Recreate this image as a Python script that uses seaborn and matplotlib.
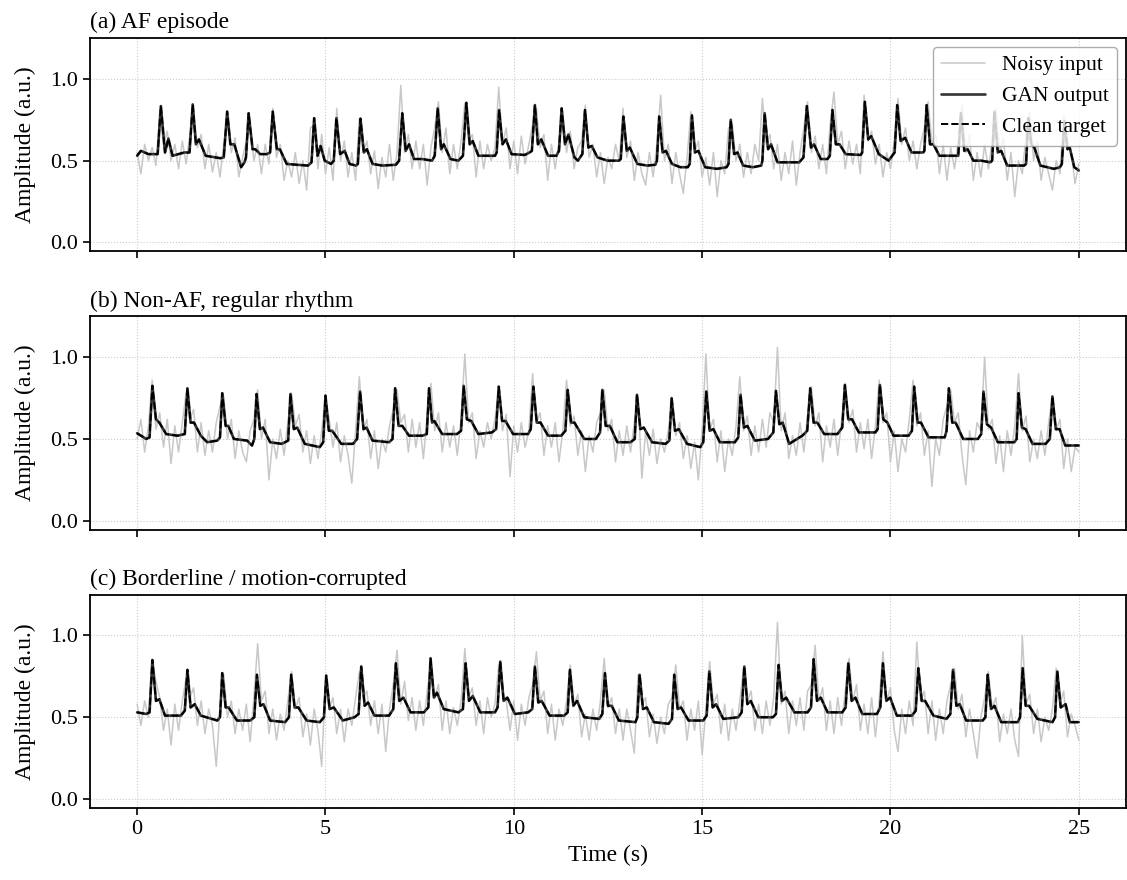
import numpy as np
import pandas as pd
import matplotlib
matplotlib.use("Agg")
import matplotlib.pyplot as plt
import seaborn as sns

# panel titles
titles = ["(a) AF episode", "(b) Non-AF, regular rhythm", "(c) Borderline / motion-corrupted"]

# noisy input, one value every 0.1 s from 0 to 25 s
noisy_a = [
    0.55, 0.42, 0.60, 0.50, 0.58, 0.47, 0.78, 0.60, 0.68, 0.50,
    0.60, 0.45, 0.62, 0.48, 0.66, 0.80, 0.58, 0.66, 0.45, 0.60,
    0.43, 0.55, 0.40, 0.60, 0.76, 0.55, 0.64, 0.40, 0.52, 0.62,
    0.72, 0.50, 0.60, 0.42, 0.60, 0.48, 0.82, 0.52, 0.60, 0.38,
    0.50, 0.40, 0.55, 0.36, 0.50, 0.32, 0.70, 0.72, 0.45, 0.66,
    0.42, 0.58, 0.38, 0.82, 0.50, 0.62, 0.40, 0.55, 0.38, 0.76,
    0.55, 0.62, 0.42, 0.56, 0.33, 0.52, 0.40, 0.60, 0.38, 0.55,
    0.96, 0.55, 0.66, 0.45, 0.62, 0.45, 0.60, 0.35, 0.58, 0.70,
    0.86, 0.55, 0.70, 0.42, 0.60, 0.45, 0.62, 0.85, 0.62, 0.66,
    0.40, 0.62, 0.45, 0.60, 0.50, 0.58, 0.95, 0.60, 0.70, 0.45,
    0.62, 0.42, 0.65, 0.48, 0.60, 0.72, 0.82, 0.58, 0.66, 0.38,
    0.60, 0.45, 0.62, 0.80, 0.55, 0.68, 0.45, 0.58, 0.62, 0.84,
    0.52, 0.60, 0.40, 0.55, 0.36, 0.52, 0.45, 0.60, 0.50, 0.82,
    0.52, 0.62, 0.38, 0.55, 0.42, 0.35, 0.55, 0.40, 0.60, 0.90,
    0.50, 0.60, 0.36, 0.55, 0.42, 0.30, 0.52, 0.80, 0.55, 0.62,
    0.40, 0.52, 0.35, 0.55, 0.28, 0.50, 0.42, 0.70, 0.72, 0.50,
    0.60, 0.40, 0.55, 0.42, 0.60, 0.50, 0.88, 0.60, 0.66, 0.45,
    0.60, 0.38, 0.55, 0.42, 0.62, 0.35, 0.55, 0.70, 0.86, 0.55,
    0.65, 0.45, 0.60, 0.42, 0.72, 0.92, 0.60, 0.68, 0.45, 0.62,
    0.48, 0.60, 0.42, 0.90, 0.62, 0.68, 0.48, 0.60, 0.40, 0.55,
    0.45, 0.62, 0.88, 0.60, 0.70, 0.50, 0.62, 0.45, 0.60, 0.70,
    0.86, 0.60, 0.66, 0.42, 0.60, 0.38, 0.58, 0.45, 0.62, 0.84,
    0.55, 0.66, 0.38, 0.55, 0.40, 0.60, 0.45, 0.62, 0.82, 0.55,
    0.64, 0.38, 0.55, 0.28, 0.50, 0.42, 0.66, 0.80, 0.50, 0.62,
    0.38, 0.52, 0.42, 0.32, 0.50, 0.42, 0.78, 0.60, 0.55, 0.36,
    0.48,
]
noisy_b = [
    0.50, 0.62, 0.42, 0.58, 0.86, 0.56, 0.66, 0.45, 0.62, 0.35,
    0.58, 0.42, 0.60, 0.78, 0.62, 0.68, 0.42, 0.60, 0.40, 0.55,
    0.42, 0.60, 0.70, 0.76, 0.50, 0.62, 0.38, 0.55, 0.42, 0.36,
    0.55, 0.62, 0.80, 0.50, 0.62, 0.25, 0.50, 0.38, 0.56, 0.40,
    0.60, 0.78, 0.58, 0.65, 0.42, 0.55, 0.35, 0.52, 0.38, 0.55,
    0.76, 0.62, 0.45, 0.60, 0.36, 0.52, 0.40, 0.23, 0.55, 0.88,
    0.55, 0.62, 0.38, 0.55, 0.32, 0.50, 0.42, 0.58, 0.68, 0.80,
    0.60, 0.65, 0.42, 0.62, 0.45, 0.60, 0.38, 0.65, 0.84, 0.55,
    0.66, 0.42, 0.60, 0.45, 0.58, 0.40, 0.62, 1.02, 0.60, 0.66,
    0.38, 0.55, 0.45, 0.60, 0.50, 0.62, 0.80, 0.55, 0.65, 0.27,
    0.58, 0.42, 0.60, 0.45, 0.55, 0.90, 0.60, 0.66, 0.40, 0.58,
    0.45, 0.60, 0.36, 0.55, 0.86, 0.58, 0.64, 0.40, 0.55, 0.30,
    0.52, 0.42, 0.60, 0.66, 0.80, 0.55, 0.62, 0.36, 0.55, 0.40,
    0.58, 0.42, 0.60, 0.76, 0.26, 0.55, 0.40, 0.56, 0.35, 0.50,
    0.42, 0.55, 0.74, 0.52, 0.60, 0.38, 0.52, 0.32, 0.48, 0.25,
    0.55, 1.02, 0.55, 0.62, 0.36, 0.55, 0.30, 0.50, 0.40, 0.58,
    0.88, 0.55, 0.64, 0.40, 0.58, 0.42, 0.62, 0.45, 0.66, 0.60,
    1.06, 0.55, 0.66, 0.38, 0.52, 0.40, 0.60, 0.42, 0.64, 0.82,
    0.58, 0.66, 0.36, 0.58, 0.45, 0.62, 0.40, 0.60, 0.84, 0.60,
    0.68, 0.42, 0.60, 0.44, 0.62, 0.38, 0.58, 0.86, 0.60, 0.66,
    0.36, 0.55, 0.30, 0.50, 0.42, 0.62, 0.86, 0.58, 0.66, 0.40,
    0.55, 0.21, 0.50, 0.40, 0.62, 0.70, 0.80, 0.60, 0.66, 0.40,
    0.22, 0.55, 0.42, 0.60, 0.55, 1.00, 0.56, 0.62, 0.35, 0.52,
    0.30, 0.55, 0.40, 0.58, 0.90, 0.55, 0.64, 0.36, 0.50, 0.38,
    0.55, 0.40, 0.60, 0.76, 0.55, 0.62, 0.32, 0.50, 0.30, 0.45,
    0.42,
]
noisy_c = [
    0.58, 0.45, 0.60, 0.50, 0.84, 0.72, 0.62, 0.42, 0.55, 0.33,
    0.58, 0.42, 0.60, 0.74, 0.62, 0.68, 0.45, 0.60, 0.40, 0.55,
    0.45, 0.20, 0.55, 0.76, 0.50, 0.60, 0.40, 0.55, 0.42, 0.58,
    0.35, 0.62, 0.95, 0.60, 0.66, 0.40, 0.55, 0.36, 0.52, 0.42,
    0.60, 0.78, 0.55, 0.62, 0.38, 0.52, 0.33, 0.55, 0.42, 0.20,
    0.72, 0.55, 0.62, 0.40, 0.55, 0.35, 0.55, 0.45, 0.62, 0.78,
    0.62, 0.66, 0.45, 0.60, 0.40, 0.58, 0.29, 0.55, 0.70, 0.91,
    0.58, 0.72, 0.48, 0.62, 0.42, 0.60, 0.45, 0.66, 0.84, 0.62,
    0.70, 0.42, 0.60, 0.40, 0.56, 0.45, 0.60, 0.92, 0.62, 0.68,
    0.45, 0.60, 0.40, 0.62, 0.50, 0.58, 0.82, 0.66, 0.60, 0.42,
    0.60, 0.36, 0.58, 0.45, 0.62, 0.70, 0.90, 0.60, 0.66, 0.40,
    0.58, 0.36, 0.55, 0.45, 0.60, 0.82, 0.58, 0.64, 0.38, 0.52,
    0.36, 0.55, 0.42, 0.60, 0.86, 0.56, 0.62, 0.40, 0.55, 0.36,
    0.55, 0.42, 0.28, 0.76, 0.58, 0.62, 0.38, 0.52, 0.34, 0.50,
    0.40, 0.58, 0.62, 0.82, 0.55, 0.60, 0.36, 0.55, 0.42, 0.60,
    0.27, 0.55, 0.84, 0.58, 0.64, 0.40, 0.58, 0.36, 0.55, 0.42,
    0.60, 0.80, 0.60, 0.66, 0.42, 0.58, 0.40, 0.60, 0.45, 0.62,
    1.08, 0.58, 0.66, 0.40, 0.60, 0.45, 0.62, 0.42, 0.66, 0.70,
    0.94, 0.60, 0.68, 0.42, 0.60, 0.40, 0.62, 0.45, 0.66, 0.86,
    0.60, 0.70, 0.42, 0.58, 0.40, 0.62, 0.38, 0.60, 0.90, 0.60,
    0.68, 0.42, 0.29, 0.55, 0.40, 0.60, 0.45, 0.96, 0.60, 0.66,
    0.40, 0.60, 0.36, 0.55, 0.40, 0.60, 0.70, 0.80, 0.55, 0.64,
    0.38, 0.55, 0.40, 0.25, 0.50, 0.62, 0.78, 0.56, 0.62, 0.35,
    0.52, 0.40, 0.55, 0.36, 0.26, 1.00, 0.58, 0.64, 0.40, 0.55,
    0.35, 0.50, 0.42, 0.55, 0.80, 0.58, 0.66, 0.38, 0.52, 0.45,
    0.36,
]

# GAN output, (time s, amplitude) knots
gan_a = [
    (0.0, 0.53), (0.1, 0.56), (0.3, 0.54), (0.545, 0.54), (0.63, 0.834), (0.74, 0.55), (0.83, 0.635), (0.94, 0.53), (1.25, 0.55),
    (1.39, 0.55), (1.476, 0.844), (1.56, 0.6), (1.64, 0.63), (1.82, 0.53), (2.21, 0.515),
    (2.30, 0.52), (2.39, 0.80), (2.476, 0.6), (2.58, 0.6), (2.76, 0.46), (2.85, 0.49),
    (2.89, 0.52), (2.96, 0.79), (3.065, 0.57), (3.135, 0.57), (3.27, 0.54), (3.44, 0.54),
    (3.53, 0.55), (3.60, 0.80), (3.71, 0.57), (3.79, 0.57), (3.97, 0.48), (4.23, 0.475), (4.54, 0.47),
    (4.63, 0.49), (4.70, 0.76), (4.79, 0.53), (4.87, 0.59), (4.98, 0.5), (5.15, 0.48),
    (5.22, 0.5), (5.29, 0.76), (5.39, 0.54), (5.51, 0.56), (5.64, 0.48), (5.81, 0.47),
    (5.86, 0.48), (5.93, 0.757), (6.02, 0.55), (6.10, 0.57), (6.25, 0.48), (6.51, 0.47), (6.87, 0.475),
    (6.955, 0.5), (7.04, 0.79), (7.13, 0.56), (7.22, 0.6), (7.35, 0.51), (7.57, 0.51), (7.83, 0.5),
    (7.90, 0.53), (7.98, 0.82), (8.07, 0.57), (8.14, 0.6), (8.32, 0.51), (8.53, 0.5),
    (8.65, 0.53), (8.74, 0.854), (8.83, 0.6), (8.91, 0.62), (9.06, 0.53), (9.33, 0.53), (9.50, 0.53),
    (9.545, 0.55), (9.61, 0.81), (9.70, 0.6), (9.79, 0.63), (9.94, 0.54), (10.29, 0.535), (10.42, 0.55),
    (10.48, 0.56), (10.56, 0.84), (10.64, 0.6), (10.73, 0.63), (10.91, 0.53), (11.13, 0.53),
    (11.20, 0.56), (11.27, 0.82), (11.36, 0.6), (11.45, 0.66), (11.61, 0.52), (11.70, 0.5),
    (11.82, 0.54), (11.89, 0.81), (11.98, 0.58), (12.07, 0.59), (12.22, 0.52), (12.49, 0.5), (12.79, 0.5),
    (12.84, 0.51), (12.91, 0.77), (13.0, 0.56), (13.08, 0.58), (13.28, 0.48), (13.54, 0.47), (13.76, 0.475),
    (13.80, 0.5), (13.86, 0.77), (13.95, 0.55), (14.04, 0.56), (14.20, 0.48), (14.42, 0.46), (14.62, 0.46),
    (14.67, 0.48), (14.73, 0.777), (14.81, 0.55), (14.90, 0.56), (15.08, 0.46), (15.39, 0.45), (15.65, 0.46),
    (15.70, 0.48), (15.76, 0.75), (15.85, 0.54), (15.94, 0.55), (16.09, 0.47), (16.35, 0.46), (16.57, 0.47),
    (16.60, 0.5), (16.66, 0.79), (16.75, 0.57), (16.83, 0.6), (17.0, 0.49), (17.58, 0.49),
    (17.69, 0.52), (17.78, 0.834), (17.89, 0.58), (17.97, 0.6), (18.15, 0.51), (18.33, 0.51),
    (18.39, 0.53), (18.46, 0.81), (18.55, 0.6), (18.65, 0.6), (18.81, 0.54), (19.21, 0.535),
    (19.25, 0.55), (19.32, 0.86), (19.41, 0.63), (19.49, 0.65), (19.69, 0.54), (19.95, 0.5),
    (20.11, 0.55), (20.18, 0.84), (20.27, 0.62), (20.39, 0.64), (20.56, 0.55), (20.87, 0.55),
    (20.90, 0.56), (20.96, 0.84), (21.05, 0.6), (21.14, 0.6), (21.30, 0.53), (21.62, 0.53),
    (21.80, 0.53), (21.87, 0.79), (21.96, 0.56), (22.05, 0.57), (22.20, 0.5), (22.41, 0.5), (22.65, 0.49),
    (22.70, 0.5), (22.76, 0.80), (22.85, 0.55), (22.94, 0.56), (23.10, 0.47), (23.29, 0.47), (23.55, 0.47),
    (23.60, 0.48), (23.66, 0.76), (23.74, 0.6), (23.82, 0.58), (23.98, 0.47), (24.34, 0.45), (24.50, 0.46),
    (24.55, 0.48), (24.62, 0.74), (24.70, 0.57), (24.76, 0.58), (24.88, 0.46), (25.0, 0.44),
]
gan_b = [
    (0.0, 0.535), (0.24, 0.5), (0.33, 0.51), (0.405, 0.825), (0.50, 0.62), (0.59, 0.6), (0.77, 0.53), (1.07, 0.52),
    (1.265, 0.53), (1.335, 0.81), (1.42, 0.6), (1.51, 0.6), (1.69, 0.52), (1.86, 0.48), (2.13, 0.49),
    (2.20, 0.51), (2.26, 0.78), (2.35, 0.58), (2.42, 0.58), (2.57, 0.5), (2.92, 0.49), (3.05, 0.46),
    (3.11, 0.5), (3.17, 0.775), (3.26, 0.56), (3.34, 0.57), (3.53, 0.48), (3.84, 0.47),
    (4.01, 0.49), (4.07, 0.775), (4.16, 0.56), (4.25, 0.57), (4.45, 0.47), (4.85, 0.45),
    (4.94, 0.48), (5.00, 0.765), (5.09, 0.55), (5.18, 0.55), (5.42, 0.47), (5.73, 0.47),
    (5.84, 0.5), (5.92, 0.79), (6.01, 0.56), (6.09, 0.57), (6.25, 0.49), (6.69, 0.48),
    (6.78, 0.5), (6.85, 0.81), (6.94, 0.58), (7.04, 0.58), (7.22, 0.52), (7.57, 0.52),
    (7.69, 0.53), (7.75, 0.81), (7.83, 0.6), (7.89, 0.61), (8.10, 0.53), (8.49, 0.53),
    (8.60, 0.55), (8.67, 0.825), (8.755, 0.62), (8.87, 0.61), (9.06, 0.53), (9.42, 0.54),
    (9.53, 0.56), (9.60, 0.82), (9.69, 0.61), (9.78, 0.61), (9.98, 0.53), (10.38, 0.53),
    (10.45, 0.56), (10.52, 0.82), (10.61, 0.6), (10.71, 0.6), (10.91, 0.52), (11.26, 0.52),
    (11.37, 0.55), (11.43, 0.8), (11.52, 0.6), (11.61, 0.6), (11.87, 0.5), (12.18, 0.5),
    (12.29, 0.54), (12.35, 0.8), (12.44, 0.58), (12.55, 0.58), (12.75, 0.48), (13.10, 0.48),
    (13.21, 0.5), (13.27, 0.77), (13.36, 0.56), (13.45, 0.57), (13.67, 0.48), (14.03, 0.47),
    (14.13, 0.49), (14.19, 0.75), (14.28, 0.55), (14.38, 0.56), (14.60, 0.47), (14.95, 0.45),
    (15.03, 0.48), (15.11, 0.79), (15.20, 0.55), (15.30, 0.56), (15.47, 0.48), (15.87, 0.48),
    (15.96, 0.51), (16.02, 0.77), (16.11, 0.57), (16.20, 0.58), (16.40, 0.49), (16.75, 0.5),
    (16.89, 0.54), (16.96, 0.794), (17.05, 0.59), (17.14, 0.6), (17.31, 0.47), (17.66, 0.52),
    (17.79, 0.55), (17.87, 0.81), (17.96, 0.6), (18.06, 0.6), (18.24, 0.53), (18.59, 0.53),
    (18.72, 0.57), (18.79, 0.83), (18.88, 0.62), (18.98, 0.62), (19.16, 0.54), (19.60, 0.54),
    (19.66, 0.56), (19.72, 0.83), (19.81, 0.62), (19.92, 0.6), (20.08, 0.52), (20.48, 0.52),
    (20.57, 0.55), (20.63, 0.82), (20.72, 0.6), (20.81, 0.6), (21.01, 0.51), (21.44, 0.51),
    (21.49, 0.55), (21.55, 0.81), (21.64, 0.6), (21.73, 0.6), (21.93, 0.5), (22.32, 0.5),
    (22.41, 0.53), (22.47, 0.79), (22.56, 0.59), (22.67, 0.57), (22.85, 0.48), (23.29, 0.48),
    (23.35, 0.5), (23.40, 0.78), (23.49, 0.57), (23.59, 0.56), (23.77, 0.47), (24.12, 0.47),
    (24.23, 0.5), (24.30, 0.76), (24.39, 0.56), (24.49, 0.56), (24.64, 0.46), (25.0, 0.46),
]
gan_c = [
    (0.0, 0.53), (0.24, 0.52), (0.33, 0.53), (0.405, 0.85), (0.50, 0.6), (0.59, 0.61), (0.74, 0.51), (1.16, 0.51),
    (1.265, 0.54), (1.335, 0.79), (1.42, 0.56), (1.53, 0.58), (1.69, 0.51), (2.13, 0.48),
    (2.20, 0.5), (2.26, 0.77), (2.35, 0.56), (2.43, 0.56), (2.65, 0.48), (3.00, 0.48),
    (3.11, 0.5), (3.18, 0.76), (3.27, 0.57), (3.355, 0.58), (3.53, 0.48), (3.93, 0.47),
    (4.03, 0.5), (4.09, 0.76), (4.18, 0.56), (4.28, 0.56), (4.50, 0.48), (4.85, 0.47),
    (4.96, 0.5), (5.02, 0.755), (5.11, 0.55), (5.22, 0.56), (5.46, 0.48), (5.77, 0.5),
    (5.88, 0.52), (5.95, 0.81), (6.04, 0.57), (6.13, 0.59), (6.30, 0.51), (6.69, 0.51),
    (6.80, 0.55), (6.87, 0.83), (6.96, 0.6), (7.07, 0.62), (7.26, 0.53), (7.61, 0.53),
    (7.73, 0.56), (7.79, 0.86), (7.88, 0.62), (7.96, 0.65), (8.14, 0.55), (8.53, 0.53),
    (8.65, 0.55), (8.72, 0.83), (8.81, 0.6), (8.91, 0.63), (9.11, 0.53), (9.50, 0.53),
    (9.57, 0.56), (9.64, 0.84), (9.73, 0.6), (9.83, 0.62), (10.03, 0.52), (10.38, 0.53),
    (10.49, 0.55), (10.56, 0.81), (10.65, 0.59), (10.74, 0.6), (10.95, 0.51), (11.34, 0.51),
    (11.43, 0.53), (11.49, 0.79), (11.58, 0.57), (11.68, 0.6), (11.87, 0.5), (12.27, 0.49),
    (12.35, 0.52), (12.42, 0.77), (12.50, 0.57), (12.60, 0.57), (12.79, 0.48), (13.23, 0.47),
    (13.28, 0.5), (13.34, 0.76), (13.43, 0.55), (13.53, 0.56), (13.72, 0.47), (14.11, 0.46),
    (14.20, 0.49), (14.26, 0.76), (14.35, 0.55), (14.44, 0.56), (14.64, 0.48), (15.03, 0.48),
    (15.12, 0.51), (15.19, 0.78), (15.28, 0.56), (15.37, 0.58), (15.56, 0.49), (15.96, 0.5),
    (16.05, 0.53), (16.12, 0.81), (16.20, 0.58), (16.29, 0.6), (16.49, 0.5), (16.88, 0.5),
    (16.96, 0.52), (17.03, 0.82), (17.12, 0.6), (17.23, 0.62), (17.45, 0.53), (17.80, 0.53),
    (17.89, 0.56), (17.96, 0.855), (18.05, 0.6), (18.15, 0.62), (18.33, 0.53), (18.72, 0.53),
    (18.81, 0.56), (18.88, 0.83), (18.97, 0.6), (19.07, 0.62), (19.25, 0.52), (19.64, 0.52),
    (19.73, 0.56), (19.80, 0.83), (19.89, 0.6), (19.99, 0.62), (20.17, 0.51), (20.57, 0.51),
    (20.67, 0.54), (20.74, 0.8), (20.83, 0.6), (20.92, 0.6), (21.14, 0.51), (21.49, 0.49),
    (21.59, 0.52), (21.66, 0.79), (21.75, 0.57), (21.84, 0.58), (22.01, 0.48), (22.45, 0.48),
    (22.52, 0.5), (22.58, 0.76), (22.67, 0.55), (22.76, 0.57), (22.94, 0.47), (23.38, 0.47),
    (23.44, 0.5), (23.51, 0.8), (23.59, 0.57), (23.68, 0.57), (23.90, 0.49), (24.30, 0.47),
    (24.37, 0.5), (24.43, 0.78), (24.52, 0.56), (24.65, 0.58), (24.76, 0.47), (25.0, 0.47),
]

sns.set_theme(style="ticks")
plt.rcParams["font.family"] = ["Liberation Serif", "DejaVu Serif"]
plt.rcParams["axes.linewidth"] = 1.3
for key in ["text.color", "axes.labelcolor", "xtick.color", "ytick.color", "axes.edgecolor"]:
    plt.rcParams[key] = "black"

fig, axes = plt.subplots(3, 1, figsize=(11.27, 8.8), dpi=100, sharex=True)
fig.subplots_adjust(left=0.0799, right=0.999, top=0.9568, bottom=0.0818, hspace=0.304)

panels = [(noisy_a, gan_a), (noisy_b, gan_b), (noisy_c, gan_c)]

for i, (ax, (noisy, gan)) in enumerate(zip(axes, panels)):
    t_noisy = np.linspace(0, 25, len(noisy))
    gan_df = pd.DataFrame(gan, columns=["t", "y"])

    sns.lineplot(x=t_noisy, y=noisy, ax=ax, color="#c8c8c8", linewidth=1.1,
                 estimator=None, label="Noisy input")
    sns.lineplot(data=gan_df, x="t", y="y", ax=ax, color="#333333", linewidth=1.9,
                 estimator=None, label="GAN output")
    # clean target sits right under the GAN output
    sns.lineplot(data=gan_df, x="t", y="y", ax=ax, color="black", linewidth=1.4,
                 linestyle="--", estimator=None, label="Clean target")

    ax.set_ylim(-0.055, 1.25)
    ax.set_yticks([0.0, 0.5, 1.0])
    ax.set_xticks([0, 5, 10, 15, 20, 25])
    ax.grid(True, linestyle=":", color="#cccccc", linewidth=0.8)
    ax.set_axisbelow(True)
    for side in ["top", "right", "left", "bottom"]:
        ax.spines[side].set_visible(True)
    ax.tick_params(axis="both", labelsize=16, length=5, width=1.2)
    ax.set_ylabel("Amplitude (a.u.)", fontsize=17, labelpad=10)
    ax.set_xlabel("")
    ax.set_title(titles[i], loc="left", fontsize=17, pad=7)

    if i == 0:
        ax.legend(loc="upper right", fontsize=15.5, frameon=True, fancybox=True,
                  framealpha=0.8, edgecolor="#999999", borderaxespad=0.4)
    else:
        ax.get_legend().remove()

axes[-1].set_xlabel("Time (s)", fontsize=17)
axes[-1].set_xlim(-1.25, 26.25)

plt.savefig("out.png", dpi=100)
plt.close()
